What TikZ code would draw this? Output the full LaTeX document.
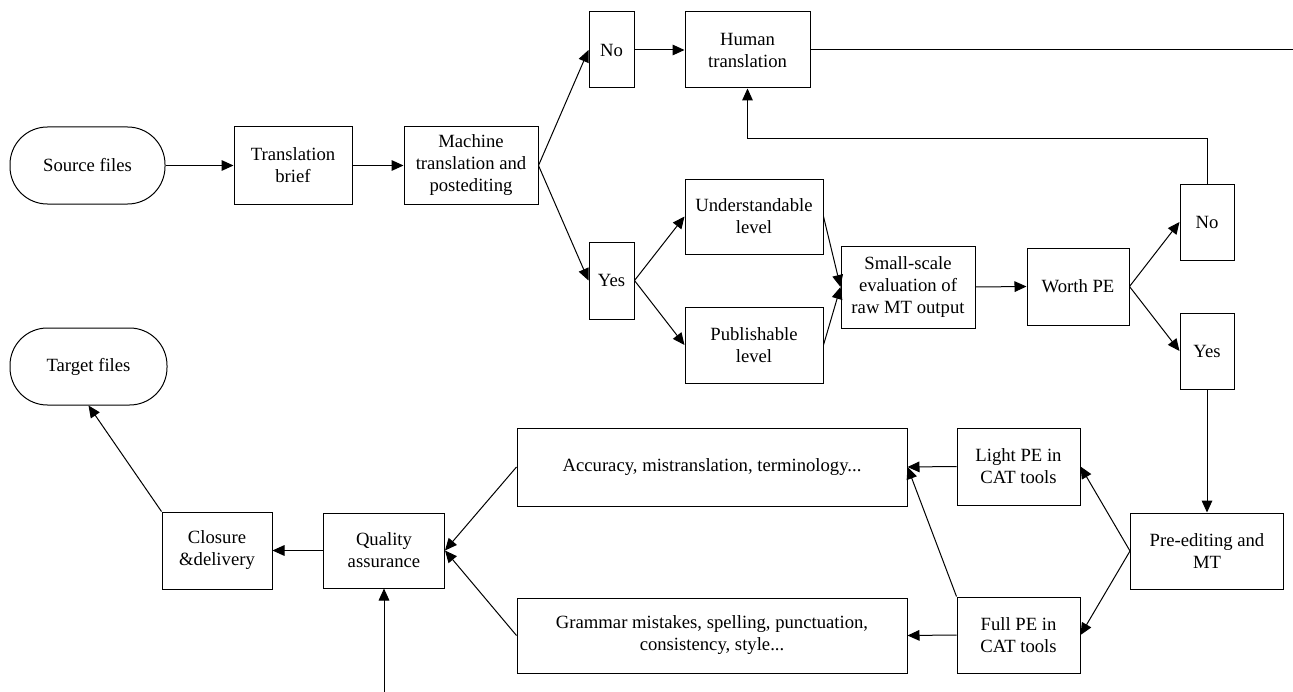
\documentclass[tikz,border=0pt]{standalone}
\usepackage{fontspec}
\setmainfont{Liberation Serif}
\usetikzlibrary{arrows.meta}

\tikzset{every picture/.style={line width=0.75pt}}
\tikzset{
  box/.style={draw, align=center, inner sep=1pt, font=\fontsize{14pt}{16.5pt}\selectfont},
  sz/.style 2 args={minimum width=#1*0.75pt, minimum height=#2*0.75pt},
  pill/.style={box, rounded corners=28pt},
  arr/.style={-{Triangle[length=9pt,width=8pt]}},
}

\begin{document}
\begin{tikzpicture}[x=0.75pt,y=0.75pt,yscale=-1,xscale=1]
\useasboundingbox (0,0) rectangle (1293,692);

% Text Node
\node[pill,sz={155}{77}] (src) at (87.5,165.5) {Source files};
% Text Node
\node[box,sz={118}{77}] (brief) at (293,165.5) {Translation\\brief};
% Text Node
\node[box,sz={134}{77}] (mtpe) at (471,165.5) {Machine\\translation and\\postediting};
% Text Node
\node[box,sz={45}{76}] (noA) at (611.5,50) {No};
% Text Node
\node[box,sz={45}{77}] (yesA) at (611.5,280.5) {Yes};
% Text Node
\node[box,sz={125}{76}] (human) at (747.5,50) {Human\\translation};
% Text Node
\node[box,sz={138}{75}] (under) at (754,216.5) {Understandable\\level};
% Text Node
\node[box,sz={138}{76}] (publ) at (754,345) {Publishable\\level};
% Text Node
\node[box,sz={134}{82}] (small) at (908,287) {Small-scale\\evaluation of\\raw MT output};
% Text Node
\node[box,sz={102}{77}] (worth) at (1078,286.5) {Worth PE};
% Text Node
\node[box,sz={54}{76}] (noB) at (1207,222) {No};
% Text Node
\node[box,sz={54}{76}] (yesB) at (1207,351) {Yes};
% Text Node
\node[box,sz={153}{76}] (pre) at (1207,551) {Pre-editing and\\MT};
% Text Node
\node[box,sz={123}{77}] (light) at (1018.5,466.5) {Light PE in\\CAT tools};
% Text Node
\node[box,sz={123}{76}] (full) at (1018.5,635) {Full PE in\\CAT tools};
% Text Node
\node[box,sz={390}{78}] (acc) at (712,467) {Accuracy, mistranslation, terminology...};
% Text Node
\node[box,sz={390}{75}] (gram) at (712,635.5) {Grammar mistakes, spelling, punctuation,\\consistency, style...};
% Text Node
\node[box,sz={121}{75}] (qa) at (384,550.5) {Quality\\assurance};
% Text Node
\node[box,sz={110}{77}] (close) at (217,550.5) {Closure\\\&delivery};
% Text Node
\node[pill,sz={157}{77}] (target) at (88.5,366.5) {Target files};

% free ends
\coordinate (outR) at (1293,50);
\coordinate (inB) at (384,692);

%Straight Lines
\draw[arr] (src.east) -- (brief.west);
\draw[arr] (brief.east) -- (mtpe.west);
\draw[arr] (mtpe.east) -- (noA.west);
\draw[arr] (mtpe.east) -- (yesA.west);
\draw[arr] (noA.east) -- (human.west);
\draw (human.east) -- (outR);
\draw[arr] (yesA.east) -- (under.west);
\draw[arr] (yesA.east) -- (publ.west);
\draw[arr] (under.east) -- (small.west);
\draw[arr] (publ.east) -- (small.west);
\draw[arr] (small.east) -- (worth.west);
\draw[arr] (worth.east) -- (noB.west);
\draw[arr] (worth.east) -- (yesB.west);
%Elbow
\draw[arr] (noB.north) -- ++(0,-45) -| (human.south);
\draw[arr] (yesB.south) -- (pre.north);
\draw[arr] (pre.west) -- (light.east);
\draw[arr] (pre.west) -- (full.east);
\draw[arr] (light.west) -- (acc.east);
\draw[arr] (full.west) -- (gram.east);
\draw[arr] (full.north west) -- (acc.east);
\draw[arr] (acc.west) -- (qa.east);
\draw[arr] (gram.west) -- (qa.east);
\draw[arr] (qa.west) -- (close.east);
\draw[arr] (close.north west) -- (target.south);
\draw[arr] (inB) -- (qa.south);

\end{tikzpicture}
\end{document}
